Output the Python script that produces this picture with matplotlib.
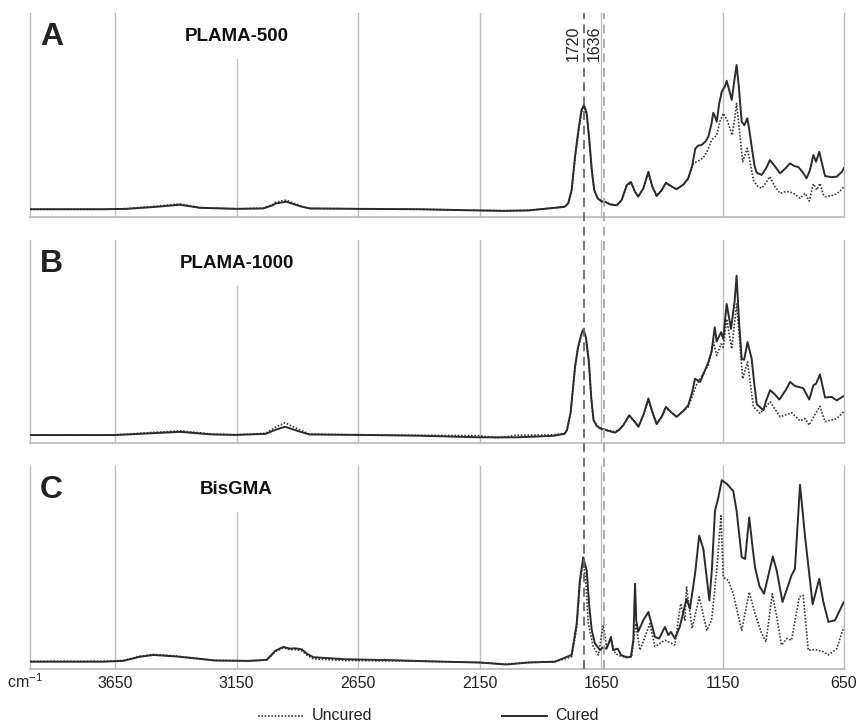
import matplotlib
matplotlib.use("Agg")
import matplotlib.pyplot as plt
from matplotlib.lines import Line2D
from matplotlib.transforms import blended_transform_factory

plt.rcParams['font.family'] = ['Liberation Sans', 'DejaVu Sans']

# ---------------- spectra (wavenumber in cm-1, absorbance in arbitrary units) ----------------
a_cured_wn = [4000, 3700, 3600, 3480, 3383, 3300, 3150, 3040, 3000, 2990, 2960, 2945, 2920, 2880,
              2848, 2650, 2400, 2200, 2050, 1950, 1840, 1800, 1785, 1771, 1757, 1743, 1730, 1720,
              1709, 1698, 1688, 1678, 1664, 1647, 1634, 1613, 1585, 1565, 1544, 1527, 1510, 1497,
              1476, 1455, 1439, 1421, 1400, 1383, 1360, 1339, 1310, 1291, 1275, 1262, 1250, 1236,
              1220, 1208, 1195, 1188, 1180, 1174, 1163, 1153, 1140, 1133, 1122, 1112, 1100, 1092,
              1083, 1071, 1060, 1048, 1040, 1030, 1018, 1009, 989, 970, 955, 935, 913, 890, 872,
              855, 838, 820, 804, 790, 776, 765, 752, 740, 728, 700, 680, 660, 650]
a_cured_ab = [0.038, 0.038, 0.040, 0.050, 0.060, 0.045, 0.040, 0.042, 0.058, 0.066, 0.072, 0.075,
              0.065, 0.050, 0.042, 0.040, 0.038, 0.033, 0.030, 0.032, 0.045, 0.050, 0.067, 0.132,
              0.296, 0.426, 0.525, 0.549, 0.510, 0.377, 0.230, 0.132, 0.092, 0.075, 0.075, 0.062,
              0.057, 0.083, 0.157, 0.172, 0.123, 0.100, 0.140, 0.222, 0.149, 0.103, 0.132, 0.168,
              0.150, 0.136, 0.160, 0.190, 0.250, 0.335, 0.350, 0.353, 0.370, 0.394, 0.460, 0.511,
              0.490, 0.467, 0.560, 0.614, 0.640, 0.668, 0.620, 0.574, 0.680, 0.745, 0.640, 0.467,
              0.450, 0.484, 0.430, 0.345, 0.250, 0.217, 0.206, 0.240, 0.279, 0.250, 0.214, 0.240,
              0.263, 0.250, 0.245, 0.220, 0.190, 0.230, 0.304, 0.271, 0.320, 0.260, 0.201, 0.195,
              0.198, 0.220, 0.240]

a_uncured_wn = [4000, 3700, 3600, 3480, 3383, 3300, 3150, 3040, 3000, 2990, 2960, 2945, 2920, 2880,
                2848, 2650, 2400, 2200, 2050, 1950, 1840, 1800, 1785, 1771, 1757, 1743, 1730, 1720,
                1709, 1698, 1688, 1678, 1664, 1647, 1634, 1613, 1585, 1565, 1544, 1527, 1510, 1497,
                1476, 1455, 1439, 1421, 1400, 1383, 1360, 1339, 1310, 1291, 1270, 1250, 1229, 1210,
                1195, 1174, 1160, 1147, 1131, 1110, 1100, 1092, 1080, 1067, 1048, 1035, 1023, 1005,
                989, 970, 955, 935, 913, 890, 872, 850, 831, 815, 810, 793, 776, 762, 749, 735, 728,
                700, 680, 660, 650]
a_uncured_ab = [0.038, 0.038, 0.041, 0.053, 0.064, 0.046, 0.040, 0.043, 0.062, 0.072, 0.080, 0.083,
                0.070, 0.052, 0.042, 0.040, 0.038, 0.034, 0.031, 0.033, 0.045, 0.050, 0.064, 0.125,
                0.285, 0.415, 0.515, 0.540, 0.500, 0.370, 0.228, 0.132, 0.093, 0.077, 0.076, 0.063,
                0.058, 0.083, 0.152, 0.168, 0.123, 0.100, 0.140, 0.215, 0.149, 0.105, 0.132, 0.165,
                0.150, 0.136, 0.160, 0.190, 0.263, 0.275, 0.290, 0.330, 0.377, 0.401, 0.470, 0.508,
                0.475, 0.401, 0.480, 0.557, 0.420, 0.271, 0.337, 0.260, 0.181, 0.150, 0.141, 0.170,
                0.198, 0.150, 0.116, 0.125, 0.123, 0.110, 0.092, 0.110, 0.116, 0.078, 0.162, 0.133,
                0.165, 0.110, 0.100, 0.105, 0.113, 0.135, 0.149]

b_cured_wn = [4000, 3650, 3550, 3383, 3250, 3150, 3030, 2990, 2950, 2900, 2850, 2650, 2400, 2150,
              2000, 1850, 1800, 1790, 1775, 1757, 1745, 1730, 1722, 1712, 1700, 1690, 1681, 1668,
              1654, 1620, 1592, 1575, 1558, 1534, 1515, 1496, 1475, 1455, 1438, 1421, 1400, 1383,
              1360, 1339, 1310, 1291, 1275, 1263, 1242, 1225, 1208, 1195, 1182, 1174, 1156, 1147,
              1140, 1133, 1115, 1100, 1092, 1082, 1071, 1061, 1047, 1030, 1020, 1009, 982, 970, 954,
              935, 916, 890, 872, 852, 818, 793, 776, 765, 749, 728, 701, 680, 653, 650]
b_cured_ab = [0.039, 0.039, 0.045, 0.055, 0.042, 0.040, 0.045, 0.065, 0.080, 0.060, 0.042, 0.040,
              0.036, 0.028, 0.028, 0.035, 0.045, 0.064, 0.150, 0.374, 0.470, 0.540, 0.562, 0.520,
              0.400, 0.220, 0.113, 0.085, 0.072, 0.060, 0.051, 0.065, 0.088, 0.137, 0.110, 0.080,
              0.140, 0.219, 0.150, 0.093, 0.130, 0.178, 0.150, 0.129, 0.160, 0.186, 0.250, 0.317,
              0.301, 0.350, 0.399, 0.450, 0.570, 0.500, 0.546, 0.513, 0.600, 0.685, 0.562, 0.700,
              0.824, 0.600, 0.415, 0.410, 0.497, 0.415, 0.300, 0.191, 0.162, 0.210, 0.260, 0.240,
              0.214, 0.260, 0.301, 0.281, 0.270, 0.214, 0.284, 0.292, 0.338, 0.224, 0.227, 0.210,
              0.230, 0.230]

b_uncured_wn = [4000, 3650, 3550, 3383, 3250, 3150, 3030, 2990, 2950, 2900, 2850, 2650, 2400, 2150,
                2080, 2040, 2000, 1850, 1800, 1790, 1775, 1757, 1745, 1730, 1722, 1712, 1700, 1690,
                1681, 1668, 1654, 1620, 1592, 1575, 1558, 1534, 1515, 1496, 1475, 1455, 1438, 1421,
                1400, 1383, 1360, 1339, 1310, 1291, 1256, 1208, 1187, 1174, 1156, 1147, 1133, 1112,
                1092, 1067, 1047, 1023, 995, 954, 913, 865, 831, 810, 793, 769, 749, 728, 680, 653,
                650]
b_uncured_ab = [0.040, 0.040, 0.048, 0.060, 0.044, 0.040, 0.048, 0.078, 0.100, 0.070, 0.044, 0.040,
                0.038, 0.036, 0.026, 0.030, 0.038, 0.040, 0.048, 0.064, 0.150, 0.370, 0.465, 0.535,
                0.555, 0.515, 0.395, 0.220, 0.115, 0.088, 0.075, 0.062, 0.055, 0.068, 0.090, 0.132,
                0.110, 0.082, 0.140, 0.210, 0.150, 0.095, 0.130, 0.172, 0.150, 0.129, 0.158, 0.178,
                0.289, 0.384, 0.497, 0.431, 0.488, 0.472, 0.611, 0.464, 0.685, 0.317, 0.399, 0.178,
                0.146, 0.203, 0.129, 0.149, 0.109, 0.120, 0.088, 0.142, 0.181, 0.105, 0.120, 0.152,
                0.155]

c_cured_wn = [4000, 3700, 3616, 3550, 3492, 3400, 3300, 3240, 3100, 3026, 2990, 2957, 2930, 2910,
              2882, 2860, 2834, 2700, 2500, 2300, 2150, 2040, 1950, 1840, 1771, 1750, 1737, 1723,
              1709, 1698, 1688, 1675, 1654, 1643, 1627, 1609, 1600, 1581, 1568, 1544, 1527, 1517,
              1510, 1505, 1497, 1476, 1455, 1428, 1411, 1387, 1373, 1362, 1346, 1326, 1298, 1284,
              1263, 1246, 1229, 1204, 1194, 1181, 1167, 1153, 1133, 1106, 1092, 1071, 1057, 1040,
              1026, 1016, 998, 979, 943, 927, 903, 866, 852, 831, 810, 779, 752, 735, 714, 687,
              653, 650]
c_cured_ab = [0.036, 0.036, 0.040, 0.060, 0.069, 0.062, 0.050, 0.042, 0.040, 0.045, 0.090, 0.109,
              0.100, 0.102, 0.097, 0.075, 0.058, 0.048, 0.043, 0.036, 0.032, 0.022, 0.032, 0.036,
              0.069, 0.224, 0.436, 0.550, 0.485, 0.305, 0.191, 0.126, 0.093, 0.106, 0.100, 0.158,
              0.093, 0.100, 0.069, 0.057, 0.060, 0.142, 0.420, 0.240, 0.184, 0.240, 0.281, 0.158,
              0.150, 0.207, 0.167, 0.183, 0.150, 0.207, 0.346, 0.297, 0.469, 0.657, 0.592, 0.338,
              0.485, 0.779, 0.845, 0.930, 0.913, 0.877, 0.779, 0.551, 0.542, 0.747, 0.596, 0.500,
              0.408, 0.371, 0.554, 0.485, 0.330, 0.461, 0.493, 0.907, 0.649, 0.319, 0.444, 0.330,
              0.232, 0.240, 0.325, 0.330]

c_uncured_wn = [4000, 3700, 3616, 3550, 3492, 3400, 3300, 3240, 3100, 3026, 2990, 2957, 2930, 2910,
                2882, 2860, 2834, 2700, 2500, 2300, 2150, 2040, 1950, 1840, 1771, 1750, 1737, 1723,
                1712, 1702, 1682, 1661, 1641, 1627, 1609, 1592, 1565, 1524, 1507, 1490, 1469, 1449,
                1428, 1387, 1346, 1322, 1305, 1298, 1275, 1246, 1215, 1195, 1174, 1156, 1147, 1126,
                1106, 1071, 1040, 1016, 989, 971, 945, 927, 907, 886, 866, 834, 818, 797, 769, 735,
                714, 680, 653, 650]
c_uncured_ab = [0.038, 0.038, 0.042, 0.062, 0.072, 0.064, 0.050, 0.042, 0.040, 0.044, 0.085, 0.105,
                0.095, 0.096, 0.090, 0.068, 0.050, 0.042, 0.040, 0.036, 0.032, 0.024, 0.032, 0.036,
                0.060, 0.200, 0.420, 0.535, 0.420, 0.222, 0.110, 0.069, 0.216, 0.110, 0.142, 0.077,
                0.061, 0.061, 0.224, 0.093, 0.158, 0.224, 0.110, 0.142, 0.118, 0.322, 0.240, 0.404,
                0.200, 0.355, 0.191, 0.240, 0.485, 0.755, 0.452, 0.436, 0.371, 0.191, 0.379, 0.273,
                0.175, 0.134, 0.371, 0.257, 0.118, 0.150, 0.142, 0.355, 0.363, 0.092, 0.096, 0.085,
                0.069, 0.100, 0.199, 0.205]

panel_letters = ["A", "B", "C"]
panel_titles = ["PLAMA-500", "PLAMA-1000", "BisGMA"]
tick_wn = [3650, 3150, 2650, 2150, 1650, 1150, 650]
tick_labels = ["3650", "3150", "2650", "2150", "1650", "1150", "650"]
marker_wn = [1720, 1636]
marker_labels = ["1720", "1636"]
series_names = ["Uncured", "Cured"]

# ---------------- layout ----------------
W, H = 859, 722
fig = plt.figure(figsize=(W / 100, H / 100), dpi=100)
fig.patch.set_facecolor("white")

panel_px = [(13, 217), (240, 443), (466, 669)]   # (top, bottom) in pixels
left_px, right_px = 30, 844

grid_color = "#bdbdbd"
ink = "#2b2b2b"

spectra = [
    (a_uncured_wn, a_uncured_ab, a_cured_wn, a_cured_ab),
    (b_uncured_wn, b_uncured_ab, b_cured_wn, b_cured_ab),
    (c_uncured_wn, c_uncured_ab, c_cured_wn, c_cured_ab),
]

axes = []
for i, ((top, bot), (uwn, uab, cwn, cab)) in enumerate(zip(panel_px, spectra)):
    ax = fig.add_axes([left_px / W, 1 - bot / H, (right_px - left_px) / W, (bot - top) / H])
    ax.set_xlim(4000, 650)
    ax.set_ylim(0, 1)
    ax.set_facecolor("none")
    for s in ("top", "left", "right"):
        ax.spines[s].set_visible(False)
    ax.spines["bottom"].set_color(grid_color)
    ax.spines["bottom"].set_linewidth(1.3)
    ax.set_yticks([])
    ax.set_xticks(tick_wn)
    ax.tick_params(axis="x", length=0, pad=5, labelsize=11.5, colors="#222222")
    if i < 2:
        ax.set_xticklabels([])
    else:
        ax.set_xticklabels(tick_labels)

    # vertical gridlines (the 3150 one stops below the title)
    for wn in [4000] + tick_wn:
        ymax = 0.775 if wn == 3150 else 1.0
        ax.axvline(wn, ymin=0, ymax=ymax, color=grid_color, lw=1.0, zorder=0, clip_on=False)

    ax.plot(uwn, uab, color="#3a3a3a", lw=1.2, ls=(0, (1, 1)), zorder=2,
            solid_joinstyle="round")
    ax.plot(cwn, cab, color=ink, lw=1.4, zorder=3, solid_joinstyle="round")

    ax.text(0.012, 0.955, panel_letters[i], transform=ax.transAxes, ha="left", va="top",
            fontsize=23, fontweight="bold", color="#222222")
    tb = blended_transform_factory(ax.transData, ax.transAxes)
    ax.text(3150, 0.884, panel_titles[i], transform=tb, ha="center", va="center",
            fontsize=13.5, fontweight="bold", color="#111111")
    axes.append(ax)

axA, axB, axC = axes

# unit label at the left end of the bottom axis
axC.annotate("cm$^{\\mathregular{-1}}$", xy=(4000, 0), xycoords="data",
             xytext=(-5, -13), textcoords="offset pixels", ha="center", va="center",
             fontsize=11.5, color="#222222", annotation_clip=False)

# dashed marker lines spanning all three panels
fig.canvas.draw()
inv = fig.transFigure.inverted()
y_top = 1 - panel_px[0][0] / H
y_bot = 1 - panel_px[2][1] / H
for wn, lab, col in zip(marker_wn, marker_labels, ["#6a6a6a", "#a8a8a8"]):
    xf = inv.transform(axC.transData.transform((wn, 0)))[0]
    fig.add_artist(Line2D([xf, xf], [y_bot, y_top], transform=fig.transFigure,
                          color=col, lw=1.3, ls=(0, (5, 3)), zorder=5))
    axA.annotate(lab, xy=(wn, 0.94), xycoords=("data", "axes fraction"),
                 xytext=(-3, 0), textcoords="offset pixels", rotation=90,
                 ha="right", va="top", fontsize=11.5, color="#222222")

# legend drawn below the bottom panel
ly = 1 - 716 / H
fig.add_artist(Line2D([258 / W, 303 / W], [ly, ly], transform=fig.transFigure,
                      color="#3a3a3a", lw=1.2, ls=(0, (1, 1))))
fig.text(312 / W, ly, series_names[0], ha="left", va="center", fontsize=11.5, color="#222222")
fig.add_artist(Line2D([502 / W, 547 / W], [ly, ly], transform=fig.transFigure,
                      color=ink, lw=1.4))
fig.text(555 / W, ly, series_names[1], ha="left", va="center", fontsize=11.5, color="#222222")

fig.savefig("out.png", dpi=100, facecolor="white")
